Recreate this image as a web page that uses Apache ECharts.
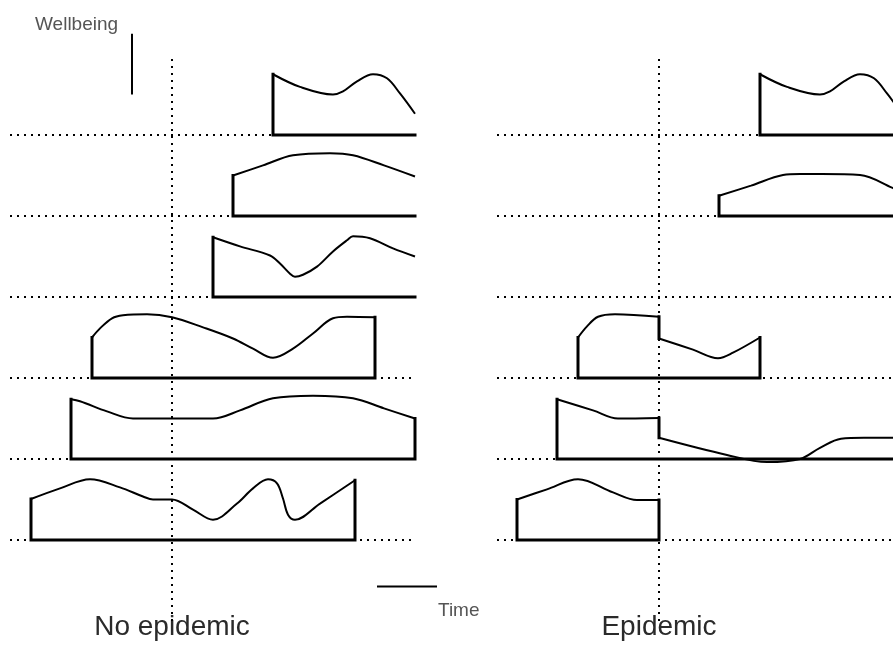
<!DOCTYPE html>
<html>
<head>
<meta charset="utf-8">
<title>Wellbeing over time</title>
<script src="https://cdn.jsdelivr.net/npm/echarts/dist/echarts.min.js"></script>
<style>
  html, body { margin: 0; padding: 0; background: #fff; }
  #chart { width: 893px; height: 648px; }
</style>
</head>
<body>
<div id="chart"></div>
<script>
// time at which the epidemic strikes (dotted vertical line)
const epidemicTime = 16
// scale bars are this many time / wellbeing units long
const scaleLength = 6
const panelTitles = ['No epidemic', 'Epidemic']

// No epidemic panel, rows top to bottom. Each row is a list of pieces,
// each piece a list of [time, wellbeing] points.
const noEpi1 = [[[26.1, 6.0], [28.8, 4.75], [32.1, 4.0], [33.1, 4.3], [34.5, 5.3], [36.1, 6.0], [37.5, 5.6], [38.8, 4.1], [40.3, 2.1]]]
const noEpi2 = [[[22.1, 4.0], [25.1, 5.0], [28.1, 6.0], [31.8, 6.2], [34.1, 6.0], [37.2, 5.0], [40.3, 3.9]]]
const noEpi3 = [[[20.1, 5.9], [22.8, 5.0], [25.8, 4.1], [26.8, 3.3], [27.8, 2.3], [28.3, 2.0], [29.1, 2.2], [30.5, 3.0], [32.1, 4.5], [33.5, 5.6], [34.1, 6.0], [35.8, 5.8], [38.1, 4.8], [40.3, 4.0]]]
const noEpi4 = [[[8.0, 4.0], [8.8, 4.9], [10.0, 5.9], [11.1, 6.2], [13.5, 6.3], [16.0, 6.0], [19.1, 5.0], [22.1, 3.9], [24.1, 2.9], [26.1, 2.0], [28.1, 2.9], [30.1, 4.4], [32.1, 5.9], [33.5, 6.05], [36.3, 6.0]]]
const noEpi5 = [[[5.9, 5.9], [6.8, 5.7], [9.5, 4.7], [12.1, 4.0], [16.0, 4.0], [20.1, 4.0], [22.8, 4.8], [26.1, 6.0], [30.1, 6.25], [34.1, 6.0], [37.2, 5.0], [40.3, 4.0]]]
const noEpi6 = [[[1.9, 4.05], [4.8, 5.1], [7.8, 6.0], [10.8, 5.2], [13.1, 4.3], [14.1, 4.0], [16.0, 4.0], [18.1, 3.0], [20.1, 2.0], [22.5, 3.6], [24.1, 5.1], [25.6, 6.0], [26.5, 5.6], [27.1, 4.1], [27.6, 2.5], [28.3, 2.0], [30.8, 3.6], [34.3, 5.9]]]
const noEpiRows = [noEpi1, noEpi2, noEpi3, noEpi4, noEpi5, noEpi6]
// true when the life ends inside the picture (drop to the baseline)
const noEpiDies = [false, false, false, true, true, true]

// Epidemic panel, a new piece starts where the epidemic hits
const epi1 = [[[26.1, 6.0], [28.8, 4.75], [32.1, 4.0], [33.1, 4.3], [34.5, 5.3], [36.1, 6.0], [37.5, 5.6], [38.8, 4.1], [40.3, 2.1]]]
const epi2 = [[[22.0, 2.0], [25.2, 3.0], [28.4, 4.05], [30.1, 4.15], [32.3, 4.15], [36.1, 4.05], [39.3, 2.8], [40.3, 2.3]]]
const epi3 = []
const epi4 = [
  [[7.9, 4.0], [8.8, 5.1], [9.9, 6.05], [11.6, 6.3], [16.0, 6.05]],
  [[16.0, 3.9], [19.4, 2.8], [21.9, 1.95], [23.4, 2.5], [26.1, 4.0]]
]
const epi5 = [
  [[5.8, 5.9], [9.4, 4.8], [11.9, 4.0], [16.0, 4.05]],
  [[16.0, 2.1], [22.8, 0.4], [26.8, -0.3], [30.1, 0.0], [32.1, 1.1], [34.2, 2.0], [36.5, 2.1], [40.5, 2.1]]
]
const epi6 = [[[1.8, 4.0], [4.8, 5.0], [7.9, 6.0], [11.4, 4.7], [13.8, 3.95], [16.0, 3.95]]]
const epiRows = [epi1, epi2, epi3, epi4, epi5, epi6]
const epiDies = [false, false, false, true, false, true]

const rowGap = 8
const baseOf = (i) => (noEpiRows.length - i) * rowGap
const lift = (pts, b) => pts.map(([t, w]) => [t, w + b])

const dotted = { color: '#000', width: 2, type: [2, 5], cap: 'butt' }
const solid = { color: '#000', width: 3, join: 'miter', cap: 'square' }
const curve = { color: '#000', width: 2 }

const line = (gridIndex, data, lineStyle, smooth) => ({
  type: 'line',
  xAxisIndex: gridIndex,
  yAxisIndex: gridIndex,
  data,
  lineStyle,
  smooth: smooth || false,
  symbol: 'none',
  silent: true,
})

const panelSeries = (rows, dies, gridIndex, dotEnd) => {
  const out = []
  // epidemic marker
  out.push(line(gridIndex, [[epidemicTime, 0], [epidemicTime, 55.8]], dotted))
  rows.forEach((pieces, i) => {
    const b = baseOf(i)
    out.push(line(gridIndex, [[-0.2, b], [dotEnd, b]], dotted))
    if (!pieces.length) return
    const first = pieces[0][0]
    const lastPiece = pieces[pieces.length - 1]
    const last = lastPiece[lastPiece.length - 1]
    // left edge, baseline and (if the life ends) right edge
    const frame = [[first[0], first[1] + b], [first[0], b], [last[0], b]]
    if (dies[i]) frame.push([last[0], last[1] + b])
    out.push(line(gridIndex, frame, solid))
    pieces.forEach((p, k) => {
      out.push(line(gridIndex, lift(p, b), curve, 0.35))
      if (k > 0) {
        const prev = pieces[k - 1][pieces[k - 1].length - 1]
        out.push(line(gridIndex, [[prev[0], prev[1] + b], [p[0][0], p[0][1] + b]], solid))
      }
    })
  })
  return out
}

const series = [
  ...panelSeries(noEpiRows, noEpiDies, 0, 40),
  ...panelSeries(epiRows, epiDies, 1, 39.4),
  // scale bars
  line(0, [[12, 52], [12, 52 + scaleLength]], { color: '#000', width: 2 }),
  line(0, [[36.5, 3.4], [36.5 + scaleLength, 3.4]], { color: '#000', width: 2 }),
]

const font = "'Liberation Sans', Arial, Helvetica, sans-serif"

const chart = echarts.init(document.getElementById('chart'))
chart.setOption({
  animation: false,
  backgroundColor: '#fff',
  grid: [
    { left: 7, top: 33.75, width: 435, height: 587.25 },
    { left: 494, top: 33.75, width: 399, height: 587.25 },
  ],
  xAxis: [
    { type: 'value', gridIndex: 0, min: -0.5, max: 43, show: false },
    { type: 'value', gridIndex: 1, min: -0.5, max: 39.4, show: false },
  ],
  yAxis: [0, 1].map((g) => ({ type: 'value', gridIndex: g, min: 0, max: 58, show: false })),
  graphic: [
    {
      type: 'text', x: 35, y: 25,
      style: { text: 'Wellbeing', fontSize: 19, fontFamily: font, fill: '#555', verticalAlign: 'middle' },
    },
    {
      type: 'text', x: 438, y: 611,
      style: { text: 'Time', fontSize: 19, fontFamily: font, fill: '#555', verticalAlign: 'middle' },
    },
    {
      type: 'text', x: 172, y: 627,
      style: { text: panelTitles[0], fontSize: 28, fontFamily: font, fill: '#2a2a2a', align: 'center', verticalAlign: 'middle' },
    },
    {
      type: 'text', x: 659, y: 627,
      style: { text: panelTitles[1], fontSize: 28, fontFamily: font, fill: '#2a2a2a', align: 'center', verticalAlign: 'middle' },
    },
  ],
  series,
})
</script>
</body>
</html>
